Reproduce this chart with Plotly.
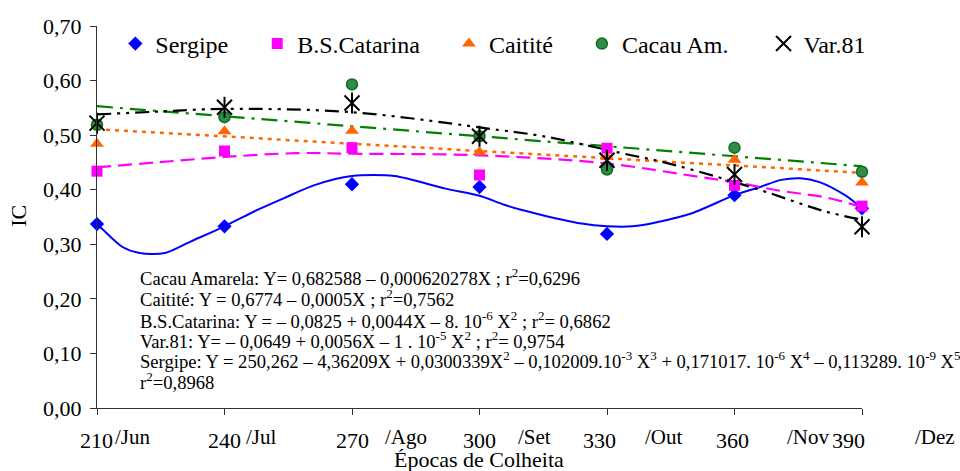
import plotly.graph_objects as go

# ---------------- data ----------------
epochs = [210, 240, 270, 300, 330, 360, 390]
sergipe = [0.337, 0.333, 0.410, 0.405, 0.319, 0.390, 0.366]
bs_catarina = [0.434, 0.471, 0.477, 0.427, 0.476, 0.408, 0.370]
caitite = [0.484, 0.507, 0.508, 0.469, 0.460, 0.455, 0.413]
cacau_am = [0.519, 0.533, 0.593, 0.498, 0.437, 0.477, 0.433]
var81 = [0.522, 0.551, 0.559, 0.498, 0.454, 0.428, 0.332]

# fitted trend curves
sergipe_fit_x = [210, 211.5, 216, 220, 226, 232, 240, 248, 255, 261, 270, 280,
                 292, 300, 306, 313, 324, 330, 336, 342, 350, 360, 366, 371,
                 375.5, 380, 386, 390]
sergipe_fit_y = [0.337, 0.326, 0.295, 0.284, 0.284, 0.305, 0.333, 0.364, 0.388,
                 0.408, 0.425, 0.425, 0.402, 0.389, 0.372, 0.357, 0.338, 0.333,
                 0.333, 0.341, 0.357, 0.390, 0.405, 0.418, 0.421, 0.414, 0.390,
                 0.366]
bsc_fit_x = [210, 224, 240, 257, 270, 300, 330, 352, 360, 370, 382, 390]
bsc_fit_y = [0.441, 0.450, 0.460, 0.467, 0.466, 0.463, 0.448, 0.423, 0.414,
             0.399, 0.385, 0.368]
caitite_fit_x = [210, 390]
caitite_fit_y = [0.511, 0.431]
cacau_fit_x = [210, 390]
cacau_fit_y = [0.553, 0.443]
var81_fit_x = [210, 224, 240, 270, 305, 313.5, 319, 334.6, 342.5, 356.6, 367, 381, 390]
var81_fit_y = [0.538, 0.543, 0.548, 0.542, 0.509, 0.500, 0.492, 0.465, 0.452,
               0.422, 0.397, 0.361, 0.345]

series_names = ["Sergipe", "B.S.Catarina", "Caitité", "Cacau Am.", "Var.81"]
x_num_labels = ["210", "240", "270", "300", "330", "360", "390"]
month_labels = ["/Jun", "/Jul", "/Ago", "/Set", "/Out", "/Nov", "/Dez"]
y_ticks = [0, 0.1, 0.2, 0.3, 0.4, 0.5, 0.6, 0.7]

equations = [
    "Cacau Amarela: Y= 0,682588 – 0,000620278X ; r<sup>2</sup>=0,6296",
    "Caitité: Y = 0,6774 – 0,0005X ; r<sup>2</sup>=0,7562",
    "B.S.Catarina: Y = – 0,0825 + 0,0044X – 8. 10<sup>-6</sup> X<sup>2</sup> ; r<sup>2</sup>= 0,6862",
    "Var.81: Y= – 0,0649 + 0,0056X – 1 . 10<sup>-5</sup> X<sup>2</sup> ; r<sup>2</sup>= 0,9754",
    "Sergipe: Y = 250,262 – 4,36209X + 0,0300339X<sup>2</sup> – 0,102009.10<sup>-3</sup> X<sup>3</sup> + 0,171017. 10<sup>-6</sup> X<sup>4</sup> – 0,113289. 10<sup>-9</sup> X<sup>5</sup>",
    "r<sup>2</sup>=0,8968",
]

# ---------------- styling ----------------
FONT = "Liberation Serif, Times New Roman, serif"
BLUE, MAGENTA, ORANGE, GREEN, BLACK = "#0000FF", "#FF00FF", "#FF6600", "#008000", "#000000"
NB = "\u00a0"

fig = go.Figure()

# trend lines (no legend)
fig.add_trace(go.Scatter(x=sergipe_fit_x, y=sergipe_fit_y, mode="lines",
                         line=dict(color=BLUE, width=2, shape="spline", smoothing=0.8),
                         showlegend=False, hoverinfo="skip", cliponaxis=False))
fig.add_trace(go.Scatter(x=bsc_fit_x, y=bsc_fit_y, mode="lines",
                         line=dict(color=MAGENTA, width=2.2, dash="14px,7px", shape="spline"),
                         showlegend=False, hoverinfo="skip", cliponaxis=False))
fig.add_trace(go.Scatter(x=caitite_fit_x, y=caitite_fit_y, mode="lines",
                         line=dict(color=ORANGE, width=2.5, dash="4px,5px"),
                         showlegend=False, hoverinfo="skip", cliponaxis=False))
fig.add_trace(go.Scatter(x=cacau_fit_x, y=cacau_fit_y, mode="lines",
                         line=dict(color=GREEN, width=2.2, dash="16px,7px,3px,7px"),
                         showlegend=False, hoverinfo="skip", cliponaxis=False))
fig.add_trace(go.Scatter(x=var81_fit_x, y=var81_fit_y, mode="lines",
                         line=dict(color=BLACK, width=2.2, dash="14px,6px,3px,6px,3px,6px",
                                   shape="spline"),
                         showlegend=False, hoverinfo="skip", cliponaxis=False))

# observed points (legend)
fig.add_trace(go.Scatter(x=epochs, y=sergipe, mode="markers", name=series_names[0] + NB * 4,
                         marker=dict(symbol="diamond", size=11, color=BLUE),
                         cliponaxis=False))
fig.add_trace(go.Scatter(x=epochs, y=bs_catarina, mode="markers", name=series_names[1] + NB * 4,
                         marker=dict(symbol="square", size=11, color=MAGENTA),
                         cliponaxis=False))
fig.add_trace(go.Scatter(x=epochs, y=caitite, mode="markers", name=series_names[2] + NB * 4,
                         marker=dict(symbol="triangle-up", size=12, color=ORANGE),
                         cliponaxis=False))
fig.add_trace(go.Scatter(x=epochs, y=cacau_am, mode="markers", name=series_names[3] + NB * 5,
                         marker=dict(symbol="circle", size=11, color="#2E8B4A",
                                     line=dict(color="#0E6E1E", width=1.5)),
                         cliponaxis=False))
fig.add_trace(go.Scatter(x=epochs, y=var81, mode="markers", name=series_names[4],
                         marker=dict(symbol="x-thin-open", size=15, color=BLACK,
                                     line=dict(color=BLACK, width=2)),
                         cliponaxis=False, legendgroup="v81"))
fig.add_trace(go.Scatter(x=epochs, y=var81, mode="markers", showlegend=False,
                         marker=dict(symbol="line-ns-open", size=15, color=BLACK,
                                     line=dict(color=BLACK, width=2)),
                         cliponaxis=False, legendgroup="v81", hoverinfo="skip"))

# ---------------- annotations ----------------
ann = []
num_shift = [-0.5, -0.5, 0, 0, -8, -2, -14]
month_shift = [16, 19, 31, 36, 36, 50, 51]
for i, xv in enumerate(epochs):
    ann.append(dict(x=xv, y=-0.0838, xref="x", yref="paper", text=x_num_labels[i],
                    showarrow=False, xanchor="center", yanchor="middle",
                    xshift=num_shift[i], font=dict(family=FONT, size=22, color="black")))
    ann.append(dict(x=xv, y=-0.0759, xref="x", yref="paper", text=month_labels[i],
                    showarrow=False, xanchor="left", yanchor="middle",
                    xshift=month_shift[i], font=dict(family=FONT, size=21, color="black")))

eq_y = [0.343, 0.288, 0.230, 0.178, 0.126, 0.0707]
for t, yy in zip(equations, eq_y):
    ann.append(dict(x=0.0536, y=yy, xref="paper", yref="paper", text=t, showarrow=False,
                    xanchor="left", yanchor="middle",
                    font=dict(family=FONT, size=18.6, color="black")))

ann.append(dict(x=-0.102, y=0.503, xref="paper", yref="paper", text="IC", textangle=-90,
                showarrow=False, xanchor="center", yanchor="middle",
                font=dict(family=FONT, size=22, color="black")))
ann.append(dict(x=0.4993, y=-0.136, xref="paper", yref="paper", text="Épocas de Colheita",
                showarrow=False, xanchor="center", yanchor="middle",
                font=dict(family=FONT, size=22, color="black")))

fig.update_layout(
    width=960, height=471,
    margin=dict(l=97, r=98, t=26, b=63),
    paper_bgcolor="white", plot_bgcolor="white",
    separators=",.",
    font=dict(family=FONT, size=22, color="black"),
    showlegend=True,
    legend=dict(orientation="h", x=0.024, y=0.953, xanchor="left", yanchor="middle",
                font=dict(family=FONT, size=24, color="black"),
                bgcolor="rgba(0,0,0,0)", itemclick=False, tracegroupgap=0),
    annotations=ann,
    xaxis=dict(range=[210, 390], tickvals=epochs, showticklabels=False,
               ticks="outside", ticklen=6, tickcolor="#333", tickwidth=1,
               showline=True, linecolor="#333", linewidth=1,
               showgrid=False, zeroline=False, fixedrange=True),
    yaxis=dict(range=[0, 0.70], tickvals=y_ticks, tickformat=".2f",
               ticks="outside", ticklen=6, tickcolor="#333", tickwidth=1,
               showline=True, linecolor="#333", linewidth=1,
               showgrid=False, zeroline=False, fixedrange=True,
               ticklabelstandoff=4,
               tickfont=dict(family=FONT, size=22, color="black")),
)

fig.write_html("out.html",
               config={"displayModeBar": False},
               post_script="document.body.style.margin='0';document.body.style.overflow='hidden';")
